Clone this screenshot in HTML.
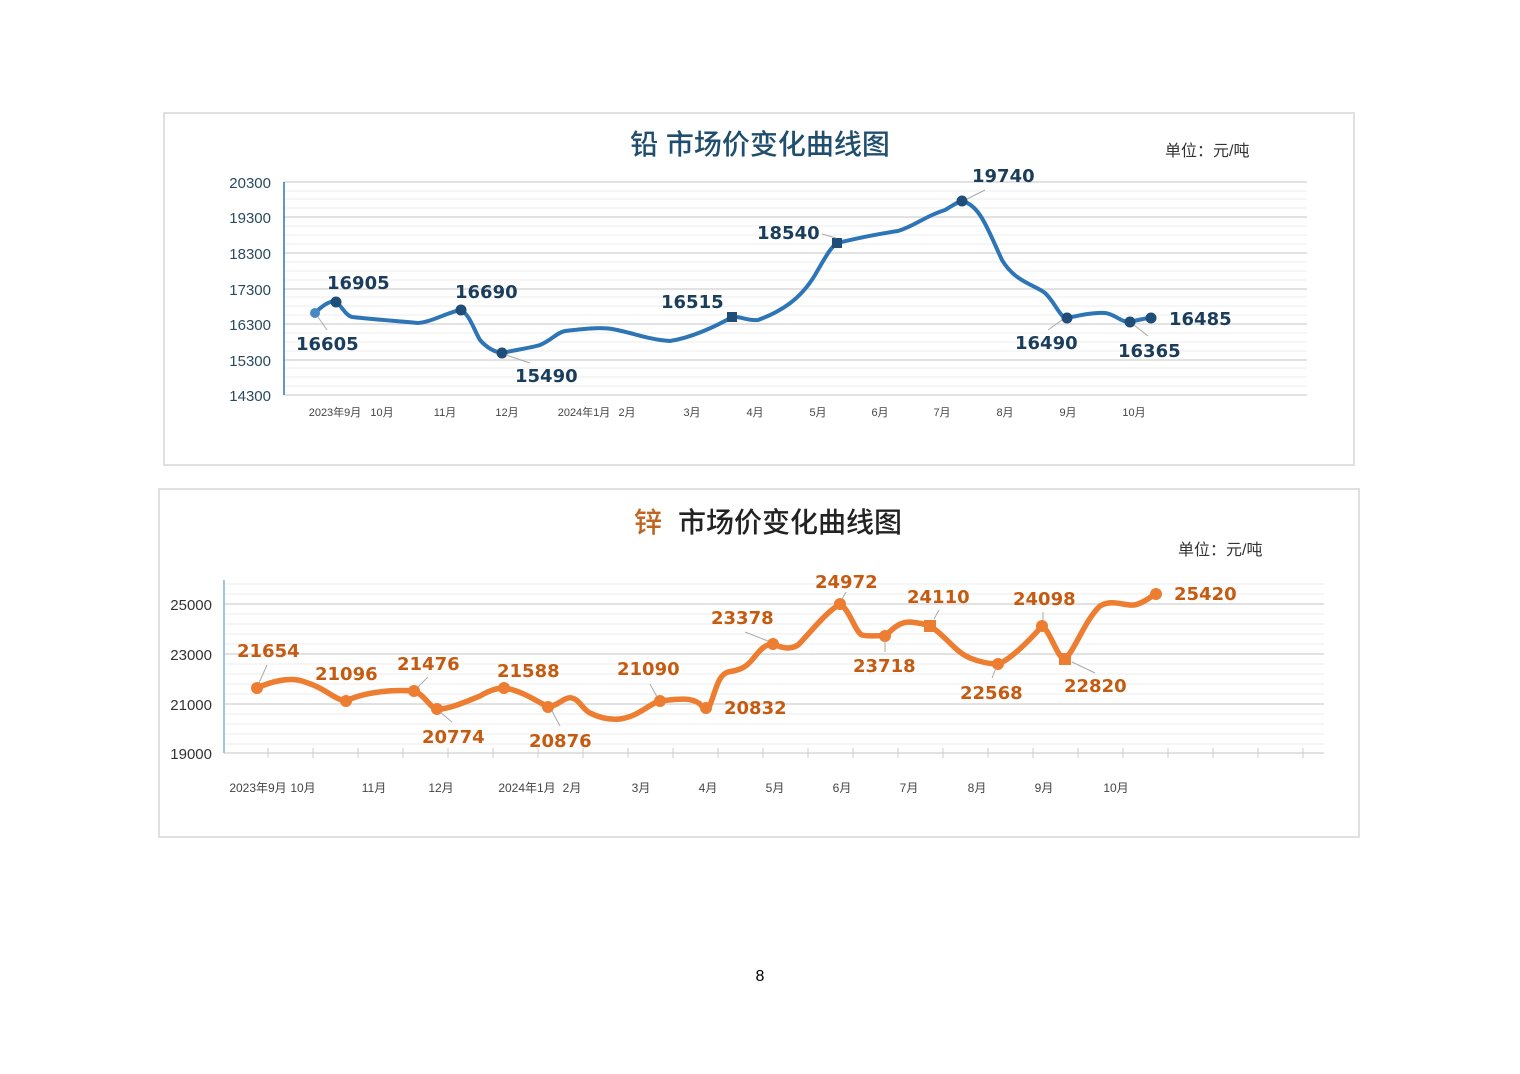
<!DOCTYPE html>
<html><head><meta charset="utf-8"><style>
html,body{margin:0;padding:0;background:#fff;}
svg{display:block;}
text{font-family:"Liberation Sans","Noto Sans CJK SC",sans-serif;}
.dl text{font-family:"DejaVu Sans","Liberation Sans",sans-serif;}
</style></head><body>
<svg width="1520" height="1074" viewBox="0 0 1520 1074" xmlns="http://www.w3.org/2000/svg">
<rect width="1520" height="1074" fill="#fff"/>
<!-- Lead chart -->
<rect x="164" y="113" width="1190" height="352" fill="#fff" stroke="#e0e0e0" stroke-width="2"/>
<text x="760" y="154" font-size="28" fill="#1f4e6e" text-anchor="middle" font-weight="500">铅  市场价变化曲线图</text>
<text x="1165" y="156" font-size="16" fill="#333">单位：元/吨</text>
<g stroke="#ececec" stroke-width="1">
<line x1="284" y1="191" x2="1307" y2="191"/><line x1="284" y1="199" x2="1307" y2="199"/><line x1="284" y1="208" x2="1307" y2="208"/>
<line x1="284" y1="226" x2="1307" y2="226"/><line x1="284" y1="235" x2="1307" y2="235"/><line x1="284" y1="244" x2="1307" y2="244"/>
<line x1="284" y1="262" x2="1307" y2="262"/><line x1="284" y1="271" x2="1307" y2="271"/><line x1="284" y1="280" x2="1307" y2="280"/>
<line x1="284" y1="297" x2="1307" y2="297"/><line x1="284" y1="306" x2="1307" y2="306"/><line x1="284" y1="315" x2="1307" y2="315"/>
<line x1="284" y1="333" x2="1307" y2="333"/><line x1="284" y1="342" x2="1307" y2="342"/><line x1="284" y1="351" x2="1307" y2="351"/>
<line x1="284" y1="368" x2="1307" y2="368"/><line x1="284" y1="377" x2="1307" y2="377"/><line x1="284" y1="386" x2="1307" y2="386"/>
</g>
<g stroke="#d9d9d9" stroke-width="1.5">
<line x1="284" y1="182" x2="1307" y2="182"/><line x1="284" y1="217" x2="1307" y2="217"/><line x1="284" y1="253" x2="1307" y2="253"/>
<line x1="284" y1="289" x2="1307" y2="289"/><line x1="284" y1="324" x2="1307" y2="324"/><line x1="284" y1="360" x2="1307" y2="360"/>
<line x1="284" y1="395" x2="1307" y2="395"/>
</g>
<line x1="284" y1="182" x2="284" y2="395" stroke="#2e75b6" stroke-width="1.5"/>
<g font-size="15" fill="#2a4a60" text-anchor="end">
<text x="271" y="188">20300</text><text x="271" y="223">19300</text><text x="271" y="259">18300</text>
<text x="271" y="295">17300</text><text x="271" y="330">16300</text><text x="271" y="366">15300</text><text x="271" y="401">14300</text>
</g>
<g font-size="11" fill="#444" text-anchor="middle">
<text x="335" y="416">2023年9月</text><text x="382" y="416">10月</text><text x="445" y="416">11月</text><text x="507" y="416">12月</text>
<text x="584" y="416">2024年1月</text><text x="627" y="416">2月</text><text x="692" y="416">3月</text><text x="755" y="416">4月</text>
<text x="818" y="416">5月</text><text x="880" y="416">6月</text><text x="942" y="416">7月</text><text x="1005" y="416">8月</text>
<text x="1068" y="416">9月</text><text x="1134" y="416">10月</text>
</g>
<path d="M315,313 C322,306 330,300 336,302 C342,306 345,315 352,317 C370,319 395,321 418,323 C432,322 448,312 461,310 C470,315 474,330 480,340 C487,348 495,352 502,353 C515,350 530,348 540,345 C552,340 556,333 565,331 C582,329 600,327 612,329 C630,332 650,340 670,341 C690,338 715,327 732,317 C740,316 748,321 758,320 C780,312 800,300 815,275 C825,258 830,248 837,243 C850,240 870,235 898,231 C915,226 925,216 945,210 C952,206 957,202 962,201 C980,205 988,230 1002,260 C1015,282 1035,285 1045,293 C1055,302 1060,318 1067,318 C1080,315 1095,312 1105,313 C1115,314 1120,322 1130,322 C1138,320 1145,318 1151,318" fill="none" stroke="#2e75b6" stroke-width="4" stroke-linecap="round"/>
<g fill="#1f4e79">
<circle cx="315" cy="313" r="5" fill="#4a88c4"/><circle cx="336" cy="302" r="5.5"/><circle cx="461" cy="310" r="5.5"/><circle cx="502" cy="353" r="5.5"/>
<rect x="727" y="312" width="10" height="10"/><rect x="832" y="238" width="10" height="10"/><circle cx="962" cy="201" r="5.5"/>
<circle cx="1067" cy="318" r="5.5"/><circle cx="1130" cy="322" r="5.5"/><circle cx="1151" cy="318" r="5.5"/>
</g>
<g stroke="#aaa" stroke-width="1" fill="none">
<line x1="318" y1="317" x2="327" y2="330"/><line x1="506" y1="355" x2="530" y2="363"/><line x1="822" y1="234" x2="836" y2="238"/>
<line x1="967" y1="199" x2="985" y2="190"/><line x1="1062" y1="320" x2="1048" y2="330"/><line x1="1134" y1="325" x2="1148" y2="336"/>
</g>
<g class="dl" font-size="18" font-weight="bold" fill="#1a3d5c">
<text x="296" y="350">16605</text><text x="327" y="289">16905</text><text x="455" y="298">16690</text><text x="515" y="382">15490</text>
<text x="661" y="308">16515</text><text x="757" y="239">18540</text><text x="972" y="182">19740</text><text x="1015" y="349">16490</text>
<text x="1118" y="357">16365</text><text x="1169" y="325">16485</text>
</g>

<!-- Zinc chart -->
<rect x="159" y="489" width="1200" height="348" fill="#fff" stroke="#e0e0e0" stroke-width="2"/>
<text x="634" y="532" font-size="28" fill="#c0651f" font-weight="500">锌</text>
<text x="678" y="532" font-size="28" fill="#222" font-weight="500">市场价变化曲线图</text>
<text x="1178" y="555" font-size="16" fill="#333">单位：元/吨</text>
<g stroke="#ececec" stroke-width="1">
<line x1="224" y1="584" x2="1324" y2="584"/><line x1="224" y1="594" x2="1324" y2="594"/>
<line x1="224" y1="614" x2="1324" y2="614"/><line x1="224" y1="624" x2="1324" y2="624"/><line x1="224" y1="634" x2="1324" y2="634"/><line x1="224" y1="644" x2="1324" y2="644"/>
<line x1="224" y1="664" x2="1324" y2="664"/><line x1="224" y1="674" x2="1324" y2="674"/><line x1="224" y1="684" x2="1324" y2="684"/><line x1="224" y1="694" x2="1324" y2="694"/>
<line x1="224" y1="714" x2="1324" y2="714"/><line x1="224" y1="724" x2="1324" y2="724"/><line x1="224" y1="734" x2="1324" y2="734"/><line x1="224" y1="744" x2="1324" y2="744"/>
</g>
<g stroke="#d9d9d9" stroke-width="1.5">
<line x1="224" y1="604" x2="1324" y2="604"/><line x1="224" y1="654" x2="1324" y2="654"/><line x1="224" y1="704" x2="1324" y2="704"/><line x1="224" y1="753" x2="1324" y2="753"/>
</g>
<line x1="224" y1="580" x2="224" y2="753" stroke="#9dc3e6" stroke-width="2"/>
<g stroke="#ccc" stroke-width="1">
<line x1="268" y1="748" x2="268" y2="758"/><line x1="313" y1="748" x2="313" y2="758"/><line x1="358" y1="748" x2="358" y2="758"/><line x1="403" y1="748" x2="403" y2="758"/>
<line x1="448" y1="748" x2="448" y2="758"/><line x1="493" y1="748" x2="493" y2="758"/><line x1="538" y1="748" x2="538" y2="758"/><line x1="583" y1="748" x2="583" y2="758"/>
<line x1="628" y1="748" x2="628" y2="758"/><line x1="673" y1="748" x2="673" y2="758"/><line x1="718" y1="748" x2="718" y2="758"/><line x1="763" y1="748" x2="763" y2="758"/>
<line x1="808" y1="748" x2="808" y2="758"/><line x1="853" y1="748" x2="853" y2="758"/><line x1="898" y1="748" x2="898" y2="758"/><line x1="943" y1="748" x2="943" y2="758"/>
<line x1="988" y1="748" x2="988" y2="758"/><line x1="1033" y1="748" x2="1033" y2="758"/><line x1="1078" y1="748" x2="1078" y2="758"/><line x1="1123" y1="748" x2="1123" y2="758"/>
<line x1="1168" y1="748" x2="1168" y2="758"/><line x1="1213" y1="748" x2="1213" y2="758"/><line x1="1258" y1="748" x2="1258" y2="758"/><line x1="1303" y1="748" x2="1303" y2="758"/>
</g>
<g font-size="15" fill="#333" text-anchor="end">
<text x="212" y="610">25000</text><text x="212" y="660">23000</text><text x="212" y="710">21000</text><text x="212" y="759">19000</text>
</g>
<g font-size="12" fill="#444" text-anchor="middle">
<text x="258" y="792">2023年9月</text><text x="303" y="792">10月</text><text x="374" y="792">11月</text><text x="441" y="792">12月</text>
<text x="527" y="792">2024年1月</text><text x="572" y="792">2月</text><text x="641" y="792">3月</text><text x="708" y="792">4月</text>
<text x="775" y="792">5月</text><text x="842" y="792">6月</text><text x="909" y="792">7月</text><text x="977" y="792">8月</text>
<text x="1044" y="792">9月</text><text x="1116" y="792">10月</text>
</g>
<path d="M257,688 C270,682 290,676 305,682 C325,688 335,700 346,701 C360,694 385,689 414,691 C425,695 430,708 437,709 C448,710 470,700 480,696 C490,690 498,688 504,688 C520,690 535,700 548,707 C558,706 565,696 572,698 C580,700 583,710 590,713 C600,718 610,720 620,719 C640,716 650,703 660,701 C672,700 690,696 700,704 C703,708 708,710 710,705 C716,690 718,675 728,672 C740,670 745,668 752,660 C760,650 765,644 773,644 C782,648 790,650 798,645 C810,633 825,613 840,604 C850,610 855,632 862,635 C870,637 878,635 885,636 C892,630 898,622 910,622 C920,623 925,624 930,626 C945,635 955,652 970,658 C980,662 990,664 998,664 C1010,660 1030,640 1042,626 C1050,630 1058,660 1065,659 C1075,650 1085,620 1100,606 C1110,600 1120,604 1130,605 C1140,606 1148,598 1156,594" fill="none" stroke="#ed7d31" stroke-width="5.5" stroke-linecap="round"/>
<g fill="#ed7d31">
<circle cx="257" cy="688" r="6"/><circle cx="346" cy="701" r="6"/><circle cx="414" cy="691" r="6"/><circle cx="437" cy="709" r="6"/>
<circle cx="504" cy="688" r="6"/><circle cx="548" cy="707" r="6"/><circle cx="660" cy="701" r="6"/><circle cx="706" cy="708" r="6"/>
<circle cx="773" cy="644" r="6"/><circle cx="840" cy="604" r="6"/><circle cx="885" cy="636" r="6"/><rect x="924" y="620" width="12" height="12"/>
<circle cx="998" cy="664" r="6"/><circle cx="1042" cy="626" r="6"/><rect x="1059" y="653" width="12" height="12"/><circle cx="1156" cy="594" r="6"/>
</g>
<g stroke="#aaa" stroke-width="1" fill="none">
<line x1="259" y1="683" x2="267" y2="665"/><line x1="418" y1="687" x2="428" y2="677"/><line x1="440" y1="712" x2="452" y2="722"/>
<line x1="552" y1="711" x2="560" y2="726"/><line x1="657" y1="697" x2="650" y2="684"/><line x1="768" y1="641" x2="745" y2="632"/>
<line x1="842" y1="599" x2="846" y2="592"/><line x1="885" y1="640" x2="885" y2="652"/><line x1="934" y1="619" x2="939" y2="610"/>
<line x1="996" y1="668" x2="992" y2="678"/><line x1="1043" y1="620" x2="1043" y2="612"/><line x1="1072" y1="662" x2="1095" y2="673"/>
</g>
<g class="dl" font-size="18" font-weight="bold" fill="#c55a11">
<text x="237" y="657">21654</text><text x="315" y="680">21096</text><text x="397" y="670">21476</text><text x="422" y="743">20774</text>
<text x="497" y="677">21588</text><text x="529" y="747">20876</text><text x="617" y="675">21090</text><text x="724" y="714">20832</text>
<text x="711" y="624">23378</text><text x="815" y="588">24972</text><text x="853" y="672">23718</text><text x="907" y="603">24110</text>
<text x="960" y="699">22568</text><text x="1013" y="605">24098</text><text x="1064" y="692">22820</text><text x="1174" y="600">25420</text>
</g>
<text x="760" y="981" font-size="16" fill="#000" text-anchor="middle">8</text>
</svg>
</body></html>
